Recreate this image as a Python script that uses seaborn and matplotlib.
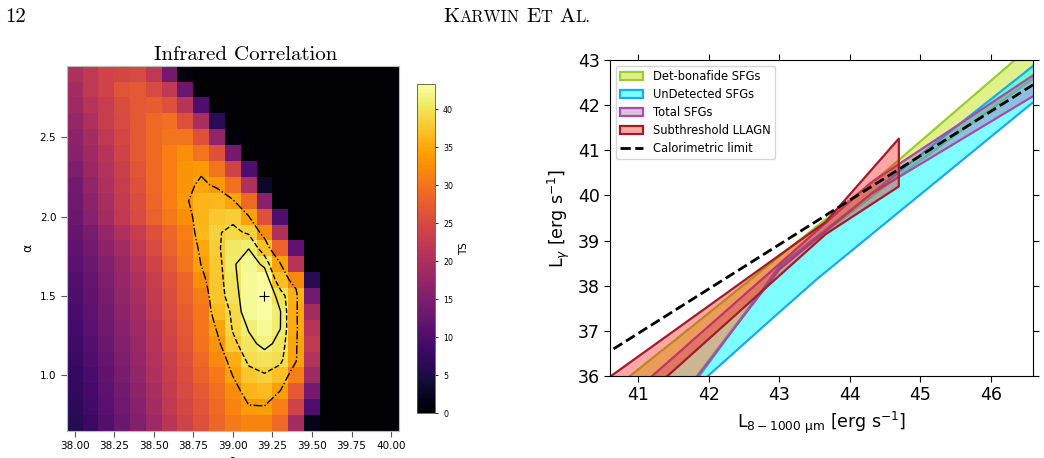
import matplotlib
matplotlib.use("Agg")
import matplotlib.pyplot as plt
import numpy as np
import pandas as pd
import seaborn as sns
from matplotlib.patches import Patch
from matplotlib.lines import Line2D

###################################
# TS scan (left panel): rows = alpha (top to bottom), columns = beta
beta_vals = [38.0, 38.1, 38.2, 38.3, 38.4, 38.5, 38.6, 38.7, 38.8, 38.9, 39.0,
             39.1, 39.2, 39.3, 39.4, 39.5, 39.6, 39.7, 39.8, 39.9, 40.0]
alpha_vals = [2.9, 2.8, 2.7, 2.6, 2.5, 2.4, 2.3, 2.2, 2.1, 2.0, 1.9, 1.8,
              1.7, 1.6, 1.5, 1.4, 1.3, 1.2, 1.1, 1.0, 0.9, 0.8, 0.7]
ts_rows = [
    [20, 22, 24, 24.5, 25, 22, 14, 1, 0, 0, 0, 0, 0, 0, 0, 0, 0, 0, 0, 0, 0],
    [19, 22, 24, 26.5, 27, 25, 22, 13, 0, 0, 0, 0, 0, 0, 0, 0, 0, 0, 0, 0, 0],
    [18.5, 21, 23, 25.5, 27, 27.5, 26, 21, 10, 0, 0, 0, 0, 0, 0, 0, 0, 0, 0, 0, 0],
    [17.5, 20, 23, 25, 27, 29, 29.5, 26, 19.5, 6.5, 0, 0, 0, 0, 0, 0, 0, 0, 0, 0, 0],
    [16.5, 19, 22, 24.5, 27, 29, 30, 30, 26, 17, 1, 0, 0, 0, 0, 0, 0, 0, 0, 0, 0],
    [16, 18.5, 21, 24, 27, 29, 31, 32.5, 30, 26, 14, 0, 0, 0, 0, 0, 0, 0, 0, 0, 0],
    [15, 18, 20.5, 23.5, 26.5, 29, 31, 33, 33.5, 30, 24, 10, 0, 0, 0, 0, 0, 0, 0, 0, 0],
    [14, 17, 20, 23, 26, 29, 31, 33, 34.8, 33.5, 29.5, 20, 3, 0, 0, 0, 0, 0, 0, 0, 0],
    [13.5, 16.5, 19.5, 22.5, 25.5, 28.5, 31, 33.6, 36, 36.3, 34.5, 29, 16, 0, 0, 0, 0, 0, 0, 0, 0],
    [13, 16, 19, 22, 25, 28, 30.5, 32.5, 36, 37.6, 38.2, 34.3, 26, 10, 0, 0, 0, 0, 0, 0, 0],
    [12.5, 14.5, 17.5, 20, 23, 26, 28.5, 31, 36.2, 38.5, 39.2, 38.4, 32.3, 20, 0, 0, 0, 0, 0, 0, 0],
    [12, 14, 16.5, 19, 22, 25, 28, 30.5, 35, 38.2, 40.5, 40.95, 37.2, 28, 12, 0, 0, 0, 0, 0, 0],
    [11, 13, 15.5, 18, 21, 24, 27, 30, 34.2, 37.8, 40.7, 42.3, 40.5, 34.5, 21, 0, 0, 0, 0, 0, 0],
    [10.5, 12.5, 15, 17.5, 20, 23, 26, 28.5, 32.6, 37.6, 40.4, 42.5, 42.8, 36.8, 32, 6, 0, 0, 0, 0, 0],
    [10, 12, 14.5, 17, 19.5, 22.5, 25.5, 28, 30.8, 37.4, 40, 42.5, 43.3, 40, 35.7, 14, 0, 0, 0, 0, 0],
    [9.5, 11.5, 14, 16.5, 19, 22, 25, 27.5, 30, 36.5, 39.2, 42.6, 43.0, 41.1, 35.1, 19, 0, 0, 0, 0, 0],
    [9, 11, 13.5, 16, 18.5, 21.5, 24.5, 27, 30.2, 34.5, 39, 41.2, 42.5, 41.05, 35.2, 21, 0, 0, 0, 0, 0],
    [8.5, 10.5, 13, 15.5, 18, 21, 24, 26.5, 29.8, 33.1, 38, 40.4, 41.6, 40.4, 34.7, 22, 0, 0, 0, 0, 0],
    [8, 10, 12.5, 15, 17.5, 20.5, 23.5, 26, 29, 32, 35.5, 39.5, 40, 39.5, 34.5, 20.5, 0, 0, 0, 0, 0],
    [7.5, 9.5, 12, 14.5, 17, 20, 23, 25.5, 28, 30.5, 34.2, 37.5, 38.5, 37, 31.2, 18.5, 0, 0, 0, 0, 0],
    [7, 9, 11.5, 14, 16.5, 19.5, 22.5, 25, 27, 29.5, 32.2, 36, 36.5, 34, 27, 14, 0, 0, 0, 0, 0],
    [6.5, 8.5, 11, 13.5, 16, 19, 22, 24.5, 26.5, 29, 31.5, 33.8, 33.9, 31, 24, 10, 0, 0, 0, 0, 0],
    [6, 8, 10.5, 13, 15.5, 18.5, 21.5, 24, 26, 28.5, 30.5, 31.5, 31.5, 29, 19, 2, 0, 0, 0, 0, 0],
]
ts_max = 43.3
best_fit = (39.2, 1.5)
contour_levels = [34.1, 38.7, 41.0]
beta_ticks = [38.0, 38.25, 38.5, 38.75, 39.0, 39.25, 39.5, 39.75, 40.0]
alpha_ticks = [1.0, 1.5, 2.0, 2.5]

###################################
# luminosity bands (right panel): x nodes, lower and upper edges
det_x = [40.5, 41.83, 43.0, 44.5, 46.7]
det_lo = [33.3, 36.0, 38.4, 40.2, 42.70]
det_hi = [35.52, 37.18, 38.65, 40.52, 43.48]

undet_x = [40.5, 41.83, 43.0, 43.53, 46.7]
undet_lo = [33.96, 35.80, 37.43, 38.16, 42.21]
undet_hi = [34.0, 35.95, 38.45, 39.10, 43.01]

total_x = [40.5, 41.83, 43.0, 44.3, 46.7]
total_lo = [33.3, 36.0, 38.38, 40.05, 42.31]
total_hi = [35.06, 36.89, 38.50, 40.30, 42.78]

llagn_x = [40.5, 43.65, 44.69]
llagn_lo = [34.74, 39.15, 40.21]
llagn_hi = [35.89, 39.42, 41.27]

calor_x = [40.65, 46.6]
calor_y = [36.6, 42.45]

###################################
# colours
green_face = (0.80, 0.91, 0.23, 0.6)
green_edge = "#9acd32"
cyan_face = (0.0, 1.0, 1.0, 0.5)
cyan_edge = "#1aaaf0"
purple_face = (0.65, 0.30, 0.65, 0.35)
purple_edge = "#a64ca6"
red_face = (1.0, 0.0, 0.0, 0.35)
red_edge = "#a01c2c"
####################################

fig = plt.figure(figsize=(10.44, 4.58), dpi=100)
W, H = 1044.0, 458.0


def box(x0, y0, x1, y1):
    # pixel box (top-left origin) -> figure fraction rect
    return [x0 / W, 1 - y1 / H, (x1 - x0) / W, (y1 - y0) / H]


ax1 = fig.add_axes(box(66.7, 65.7, 399, 431))
cax = fig.add_axes(box(417.3, 84, 434.7, 413.3))
ax2 = fig.add_axes(box(610, 60, 1033, 376))

# ---------------- left: TS map ----------------
ts = pd.DataFrame(ts_rows, index=alpha_vals, columns=beta_vals)
sns.heatmap(ts, ax=ax1, cmap="inferno", vmin=0, vmax=ts_max, cbar_ax=cax,
            xticklabels=False, yticklabels=False)

step_b = beta_vals[1] - beta_vals[0]
step_a = alpha_vals[0] - alpha_vals[1]
col_pos = np.arange(len(beta_vals)) + 0.5
row_pos = np.arange(len(alpha_vals)) + 0.5
X, Y = np.meshgrid(col_pos, row_pos)
ax1.contour(X, Y, ts.values, levels=contour_levels, colors="black",
            linestyles=["-.", "--", "-"], linewidths=1.0)
bx = (best_fit[0] - beta_vals[0]) / step_b + 0.5
by = (alpha_vals[0] - best_fit[1]) / step_a + 0.5
ax1.plot([bx], [by], marker="+", color="black", ms=7, mew=0.8)

ax1.set_xticks([(v - beta_vals[0]) / step_b + 0.5 for v in beta_ticks])
ax1.set_xticklabels(["%.2f" % v for v in beta_ticks], rotation=0)
ax1.set_yticks([(alpha_vals[0] - v) / step_a + 0.5 for v in alpha_ticks])
ax1.set_yticklabels(["%.1f" % v for v in alpha_ticks], rotation=0)
ax1.tick_params(labelsize=7.5, color="#555555", length=4, width=0.8)
for s in ax1.spines.values():
    s.set_visible(True)
    s.set_color("#bbbbbb")
    s.set_linewidth(0.8)
ax1.set_ylabel("α", fontsize=9)
ax1.set_xlabel("β", fontsize=9)

cb = ax1.collections[0].colorbar
cb.set_ticks(list(range(0, 45, 5)))
cb.ax.tick_params(labelsize=5.7, length=2.5, width=0.6)
cb.outline.set_linewidth(0.6)
cb.outline.set_edgecolor("#555555")
cb.set_label("TS", fontsize=7.5)

fig.text(245.3 / W, 1 - 60.5 / H, "Infrared Correlation", family="cmr10",
         fontsize=15, ha="center", va="baseline")

# ---------------- right: luminosity bands ----------------
ax2.fill_between(det_x, det_lo, det_hi, facecolor=green_face, edgecolor=green_edge, lw=1.6)
ax2.fill_between(undet_x, undet_lo, undet_hi, facecolor=cyan_face, edgecolor=cyan_edge, lw=1.6)
ax2.fill_between(total_x, total_lo, total_hi, facecolor=purple_face, edgecolor=purple_edge, lw=1.6)
sns.lineplot(x=calor_x, y=calor_y, ax=ax2, color="black", lw=2, linestyle="--")
ax2.fill_between(llagn_x, llagn_lo, llagn_hi, facecolor=red_face, edgecolor=red_edge, lw=1.6)

ax2.set_xlim(40.6, 46.6)
ax2.set_ylim(36, 43)
ax2.set_xticks([41, 42, 43, 44, 45, 46])
ax2.set_yticks([36, 37, 38, 39, 40, 41, 42, 43])
ax2.tick_params(labelsize=12.5, direction="out", top=True, right=True, length=4)
ax2.set_xlabel(r"L$_{8-1000\ \mathrm{\mu m}}$ [erg s$^{-1}$]", fontsize=12.5)
ax2.set_ylabel(r"L$_{\gamma}$ [erg s$^{-1}$]", fontsize=12.5)

handles = [
    Patch(facecolor=green_face, edgecolor=green_edge, lw=1.6, label="Det-bonafide SFGs"),
    Patch(facecolor=cyan_face, edgecolor=cyan_edge, lw=1.6, label="UnDetected SFGs"),
    Patch(facecolor=purple_face, edgecolor=purple_edge, lw=1.6, label="Total SFGs"),
    Patch(facecolor=red_face, edgecolor=red_edge, lw=1.6, label="Subthreshold LLAGN"),
    Line2D([0], [0], color="black", lw=2, linestyle="--", label="Calorimetric limit"),
]
ax2.legend(handles=handles, loc="upper left", fontsize=8.3, labelspacing=0.42)

# ---------------- page header ----------------
fig.text(5 / W, 1 - 21.7 / H, "12", family="cmr10", fontsize=15, va="baseline")
renderer = fig.canvas.get_renderer()
pieces = [("K", 15), ("ARWIN", 11.9), (" ", 15), ("E", 15), ("T", 11.9),
          (" ", 15), ("A", 15), ("L.", 11.9)]
xpos = 443.3
for txt, size in pieces:
    t = fig.text(xpos / W, 1 - 21.7 / H, txt, family="cmr10", fontsize=size, va="baseline")
    if txt == " ":
        xpos += 0.333 * size * 100 / 72
    else:
        xpos += t.get_window_extent(renderer).width

fig.savefig("out.png", dpi=100)
